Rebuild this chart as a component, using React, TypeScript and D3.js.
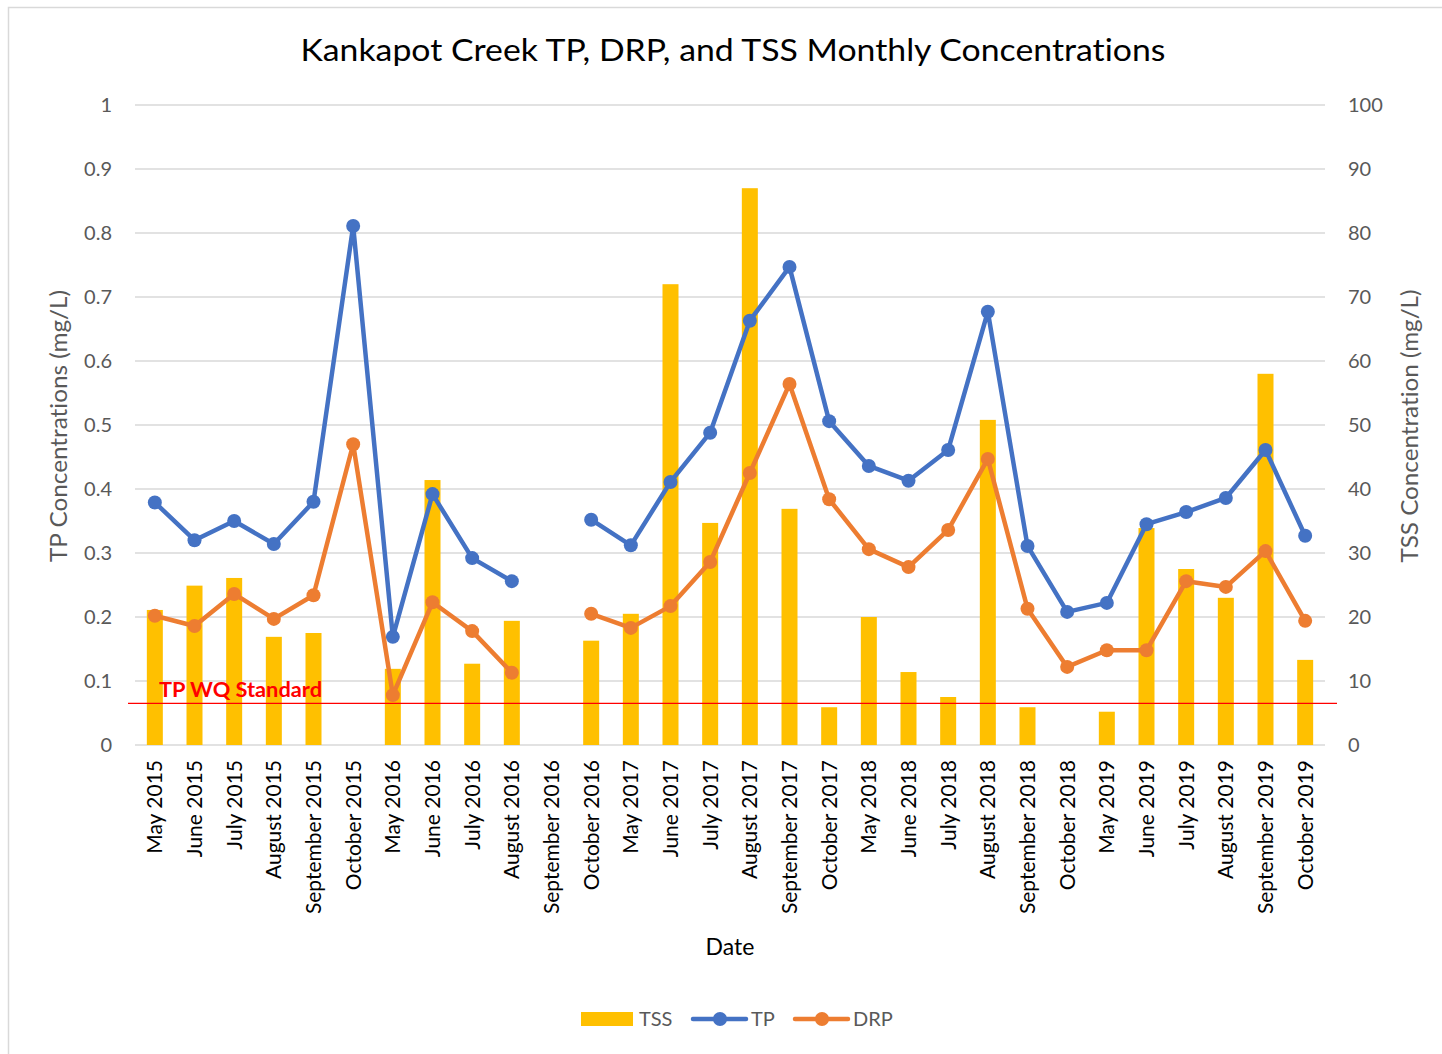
import React from "react";
import * as d3 from "d3";

const categories = [
  "May 2015", "June 2015", "July 2015", "August 2015", "September 2015", "October 2015",
  "May 2016", "June 2016", "July 2016", "August 2016", "September 2016", "October 2016",
  "May 2017", "June 2017", "July 2017", "August 2017", "September 2017", "October 2017",
  "May 2018", "June 2018", "July 2018", "August 2018", "September 2018", "October 2018",
  "May 2019", "June 2019", "July 2019", "August 2019", "September 2019", "October 2019",
];

const tssValues: (number | null)[] = [
  21.1, 24.9, 26.1, 16.9, 17.5, null,
  11.9, 41.4, 12.7, 19.4, null, 16.3,
  20.5, 72.0, 34.7, 87.0, 36.9, 5.9,
  20.0, 11.4, 7.5, 50.8, 5.9, null,
  5.2, 33.9, 27.5, 23.0, 58.0, 13.3,
];

const tpValues: (number | null)[] = [
  0.379, 0.320, 0.350, 0.314, 0.380, 0.811,
  0.169, 0.392, 0.292, 0.256, null, 0.352,
  0.312, 0.411, 0.488, 0.663, 0.747, 0.506,
  0.436, 0.413, 0.461, 0.677, 0.311, 0.208,
  0.222, 0.345, 0.364, 0.386, 0.461, 0.327,
];

const drpValues: (number | null)[] = [
  0.202, 0.186, 0.236, 0.197, 0.234, 0.470,
  0.078, 0.223, 0.178, 0.113, null, 0.205,
  0.183, 0.217, 0.286, 0.425, 0.564, 0.384,
  0.306, 0.278, 0.336, 0.447, 0.213, 0.122,
  0.148, 0.148, 0.256, 0.247, 0.303, 0.194,
];

const leftTicks = [0, 0.1, 0.2, 0.3, 0.4, 0.5, 0.6, 0.7, 0.8, 0.9, 1];
const rightTicks = [0, 10, 20, 30, 40, 50, 60, 70, 80, 90, 100];
const tpStandard = 0.065;

const FONT = "Lato, 'Open Sans', sans-serif";
const TP_COLOR = "#4472C4";
const DRP_COLOR = "#ED7D31";
const TSS_COLOR = "#FFC000";

export default function App() {
  const W = 1442, H = 1054;
  const left = 135, right = 1325, top = 105, bottom = 745;

  const x = d3.scaleBand<string>().domain(categories).range([left, right]).padding(0);
  const cx = (c: string) => (x(c) as number) + x.bandwidth() / 2;
  const yL = d3.scaleLinear().domain([0, 1]).range([bottom, top]);
  const yR = d3.scaleLinear().domain([0, 100]).range([bottom, top]);
  const barW = 16;

  const line = d3
    .line<number | null>()
    .defined((d) => d != null)
    .x((_, i) => cx(categories[i]))
    .y((d) => yL(d as number));

  return (
    <svg
      width={W}
      height={H}
      style={{ position: "absolute", left: 0, top: 0, background: "#fff", fontVariantLigatures: "none" }}
      fontFamily={FONT}
    >
      <rect x={8.5} y={7.5} width={1500} height={1100} fill="#fff" stroke="#d9d9d9" strokeWidth={1.5} />

      <text x={733} y={61} textAnchor="middle" fontSize={31} fill="#000" textLength={865} lengthAdjust="spacingAndGlyphs">
        Kankapot Creek TP, DRP, and TSS Monthly Concentrations
      </text>

      {leftTicks.map((t) => (
        <line key={"g" + t} x1={left} x2={right} y1={yL(t)} y2={yL(t)} stroke="#d9d9d9" strokeWidth={1.5} />
      ))}
      {leftTicks.map((t) => (
        <text key={"l" + t} x={112} y={yL(t) + 7} textAnchor="end" fontSize={20} fill="#595959">
          {String(t)}
        </text>
      ))}
      {rightTicks.map((t) => (
        <text key={"r" + t} x={1348} y={yR(t) + 7} textAnchor="start" fontSize={20} fill="#595959">
          {String(t)}
        </text>
      ))}

      {tssValues.map((v, i) =>
        v == null ? null : (
          <rect
            key={"b" + i}
            x={cx(categories[i]) - barW / 2}
            y={yR(v)}
            width={barW}
            height={bottom - yR(v)}
            fill={TSS_COLOR}
          />
        )
      )}

      <line x1={128} x2={1337} y1={yL(tpStandard)} y2={yL(tpStandard)} stroke="#FF0000" strokeWidth={1.3} />
      <text x={159} y={697} fontSize={20.5} fontWeight="bold" fill="#FF0000" textLength={163} lengthAdjust="spacingAndGlyphs">
        TP WQ Standard
      </text>

      <path d={line(tpValues) || ""} fill="none" stroke={TP_COLOR} strokeWidth={4.5} strokeLinejoin="round" strokeLinecap="round" />
      {tpValues.map((v, i) =>
        v == null ? null : <circle key={"tp" + i} cx={cx(categories[i])} cy={yL(v)} r={7} fill={TP_COLOR} />
      )}
      <path d={line(drpValues) || ""} fill="none" stroke={DRP_COLOR} strokeWidth={4.5} strokeLinejoin="round" strokeLinecap="round" />
      {drpValues.map((v, i) =>
        v == null ? null : <circle key={"drp" + i} cx={cx(categories[i])} cy={yL(v)} r={7} fill={DRP_COLOR} />
      )}

      {categories.map((c) => (
        <text
          key={"c" + c}
          transform={`translate(${cx(c) + 7.5},${760}) rotate(-90)`}
          textAnchor="end"
          fontSize={21}
          fill="#000"
        >
          {c}
        </text>
      ))}

      <text x={730} y={955} textAnchor="middle" fontSize={23} fill="#000">
        Date
      </text>

      <text transform={`translate(67,426) rotate(-90)`} textAnchor="middle" fontSize={23} fill="#595959" textLength={272} lengthAdjust="spacingAndGlyphs">
        TP Concentrations (mg/L)
      </text>
      <text transform={`translate(1418,426) rotate(-90)`} textAnchor="middle" fontSize={23} fill="#595959" textLength={273} lengthAdjust="spacingAndGlyphs">
        TSS Concentration (mg/L)
      </text>

      {/* Legend */}
      <rect x={581} y={1012} width={52} height={14} fill={TSS_COLOR} />
      <text x={639} y={1026} fontSize={20} fill="#595959">TSS</text>
      <line x1={693} x2={746} y1={1019} y2={1019} stroke={TP_COLOR} strokeWidth={4.5} strokeLinecap="round" />
      <circle cx={720} cy={1019} r={7} fill={TP_COLOR} />
      <text x={751} y={1026} fontSize={20} fill="#595959">TP</text>
      <line x1={795} x2={848} y1={1019} y2={1019} stroke={DRP_COLOR} strokeWidth={4.5} strokeLinecap="round" />
      <circle cx={822} cy={1019} r={7} fill={DRP_COLOR} />
      <text x={853} y={1026} fontSize={20} fill="#595959">DRP</text>
    </svg>
  );
}
